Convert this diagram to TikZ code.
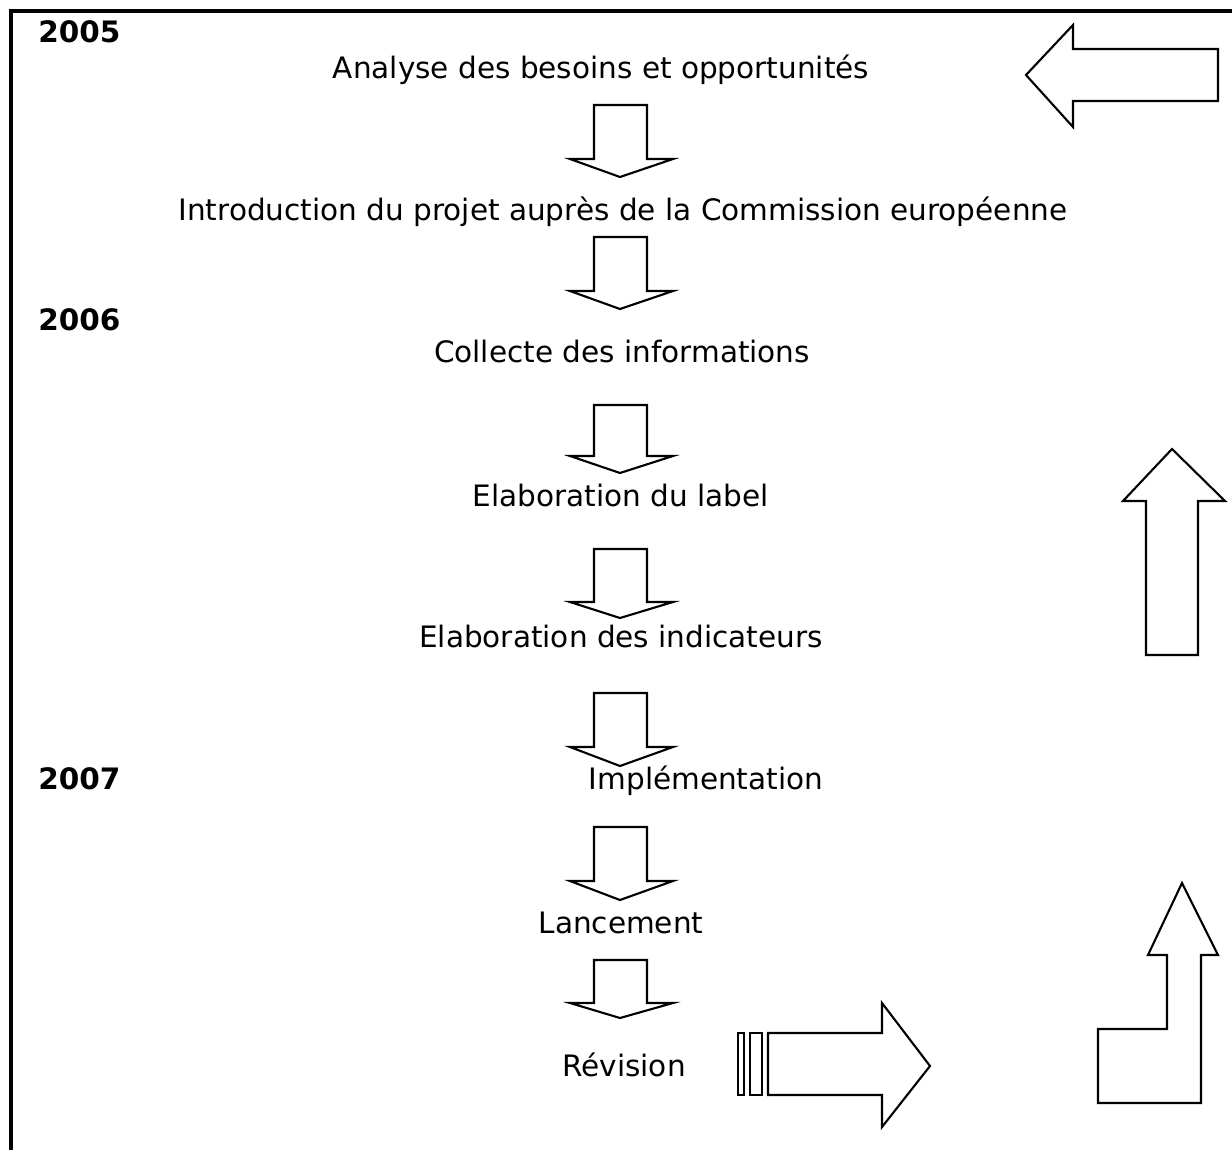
\documentclass[tikz,border=0pt]{standalone}
\usepackage{fontspec}
\setmainfont{DejaVu Sans}
\usetikzlibrary{positioning}

\tikzset{
    stage/.style={anchor=base, inner sep=0pt, font=\fontsize{16.8}{19}\selectfont},
    year/.style={anchor=base west, inner sep=0pt, font=\fontsize{16.8}{19}\selectfont\bfseries},
    blockarrow/.style={draw=black, line width=1.2pt, fill=white, line join=miter}
}

\begin{document}
\begin{tikzpicture}[x=0.02cm, y=-0.02cm]
    \useasboundingbox (0,0) rectangle (1232,1150);

    % frame
    \draw [line width=2.2pt] (11,1150) -- (11,11) -- (1232,11);

    % years
    \node [year] (y2005) at (38,42) {2005};
    \node [year] (y2006) at (38,330) {2006};
    \node [year] (y2007) at (38,789) {2007};

    % stages
    \node [stage] (analyse) at (601,78) {Analyse des besoins et opportunités};
    \node [stage] (introduction) at (623,220) {Introduction du projet auprès de la Commission européenne};
    \node [stage] (collecte) at (622,362) {Collecte des informations};
    \node [stage] (label) at (621,506) {Elaboration du label};
    \node [stage] (indicateurs) at (621,647) {Elaboration des indicateurs};
    \node [stage] (implementation) at (706,789) {Implémentation};
    \node [stage] (lancement) at (621,933) {Lancement};
    \node [stage] (revision) at (624,1076) {Révision};

    % down arrows between stages
    \foreach \top/\base/\tip in {105/159/177, 237/291/309, 405/456/473, 549/602/618, 693/747/766, 827/881/900, 960/1003/1018}
        \draw [blockarrow] (594,\top) -- (647,\top) -- (647,\base) -- (673,\base) -- (620,\tip) -- (570,\base) -- (594,\base) -- cycle;

    % return arrows on the right
    \draw [blockarrow] (1026,75) -- (1073,25) -- (1073,49) -- (1218,49) -- (1218,101) -- (1073,101) -- (1073,127) -- cycle;
    \draw [blockarrow] (1172,449) -- (1225,501) -- (1198,501) -- (1198,655) -- (1146,655) -- (1146,501) -- (1123,501) -- cycle;
    \draw [blockarrow] (1182,883) -- (1218,955) -- (1201,955) -- (1201,1103) -- (1098,1103) -- (1098,1029) -- (1167,1029) -- (1167,955) -- (1148,955) -- cycle;

    % striped arrow after revision
    \draw [blockarrow] (738,1033) rectangle (744,1095);
    \draw [blockarrow] (750,1033) rectangle (762,1095);
    \draw [blockarrow] (768,1033) -- (882,1033) -- (882,1003) -- (930,1066) -- (882,1127) -- (882,1095) -- (768,1095) -- cycle;
\end{tikzpicture}
\end{document}
